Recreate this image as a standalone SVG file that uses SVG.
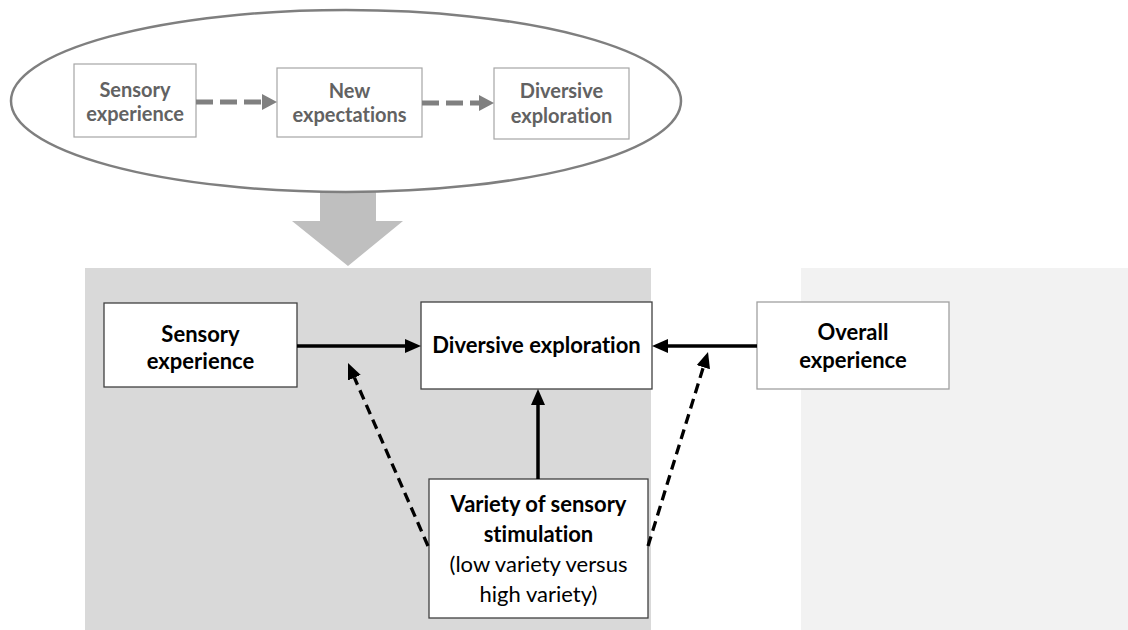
<svg xmlns="http://www.w3.org/2000/svg" width="1128" height="630" viewBox="0 0 1128 630">
<style>
  .t { font-family: Lato, "Liberation Sans", sans-serif; text-anchor: middle; font-variant-ligatures: none; }
  .top { font-size: 20px; font-weight: bold; fill: #626262; }
  .bot { font-size: 22px; font-weight: bold; fill: #000; }
  .reg { font-size: 22px; font-weight: normal; fill: #000; }
  .sbox { fill: #fff; stroke: #a6a6a6; stroke-width: 1.2; }
  .bbox { fill: #fff; stroke: #404040; stroke-width: 1.3; }
  .gdash { stroke: #808080; stroke-width: 5; stroke-dasharray: 17 7; fill: none; }
  .solid { stroke: #000; stroke-width: 3.5; fill: none; }
  .bdash { stroke: #000; stroke-width: 3.3; stroke-dasharray: 10 6; fill: none; }
</style>
<defs>
  <marker id="ga" markerUnits="userSpaceOnUse" markerWidth="16" markerHeight="18" refX="0" refY="8" orient="auto">
    <path d="M0,0 L15,8 L0,16 z" fill="#808080"/>
  </marker>
  <marker id="ba" markerUnits="userSpaceOnUse" markerWidth="17" markerHeight="16" refX="0" refY="7" orient="auto">
    <path d="M0,0 L16,7 L0,14 z" fill="#000"/>
  </marker>
</defs>

<rect id="bg-main" x="85" y="268" width="566" height="362" fill="#d9d9d9"/>
<rect id="bg-light" x="801" y="268" width="327" height="362" fill="#f2f2f2"/>

<g id="big-arrow">
  <polygon points="320,192 376,192 376,221 403,221 348,266 292,221 320,221" fill="#bfbfbf"/>
</g>

<g id="ellipse">
  <ellipse cx="346" cy="101" rx="335" ry="91" fill="#fff" stroke="#7f7f7f" stroke-width="2.5"/>
</g>

<g id="n-top-sensory">
  <rect class="sbox" x="74" y="64" width="122" height="73"/>
  <text class="t top" x="135" y="97">Sensory</text>
  <text class="t top" x="135" y="121">experience</text>
</g>
<g id="n-top-expect">
  <rect class="sbox" x="277" y="68" width="145" height="69"/>
  <text class="t top" x="349.5" y="98">New</text>
  <text class="t top" x="349.5" y="122">expectations</text>
</g>
<g id="n-top-diversive">
  <rect class="sbox" x="494" y="68" width="135" height="71"/>
  <text class="t top" x="561.5" y="98">Diversive</text>
  <text class="t top" x="561.5" y="123">exploration</text>
</g>

<g id="n-sensory">
  <rect class="bbox" x="104" y="303" width="193" height="84"/>
  <text class="t bot" x="200.5" y="342">Sensory</text>
  <text class="t bot" x="200.5" y="369">experience</text>
</g>
<g id="n-diversive">
  <rect class="bbox" x="421" y="302" width="231" height="87"/>
  <text class="t bot" x="536.5" y="353">Diversive exploration</text>
</g>
<g id="n-overall">
  <rect x="757" y="302" width="192" height="87" fill="#fff" stroke="#a0a0a0" stroke-width="1.3"/>
  <text class="t bot" x="853" y="340">Overall</text>
  <text class="t bot" x="853" y="368">experience</text>
</g>
<g id="n-variety">
  <rect class="bbox" x="429" y="479" width="219" height="139"/>
  <text class="t bot" x="538.5" y="512">Variety of sensory</text>
  <text class="t bot" x="538.5" y="542">stimulation</text>
  <text class="t reg" x="538.5" y="572">(low variety versus</text>
  <text class="t reg" x="538.5" y="602">high variety)</text>
</g>

<g id="connectors">
  <line class="gdash" x1="196" y1="102" x2="262" y2="102" marker-end="url(#ga)"/>
  <line class="gdash" x1="422" y1="103" x2="479" y2="103" marker-end="url(#ga)"/>
  <line class="solid" x1="297" y1="346" x2="405" y2="346" marker-end="url(#ba)"/>
  <line class="solid" x1="757" y1="346" x2="668" y2="346" marker-end="url(#ba)"/>
  <line class="solid" x1="538" y1="479" x2="538" y2="405" marker-end="url(#ba)"/>
  <line class="bdash" x1="428" y1="546" x2="354.4" y2="377.7" marker-end="url(#ba)"/>
  <line class="bdash" x1="648" y1="546" x2="703.3" y2="367.3" marker-end="url(#ba)"/>
</g>
</svg>
